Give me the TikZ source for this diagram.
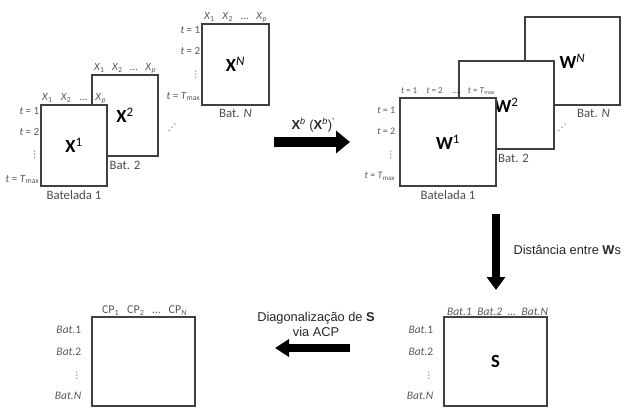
\documentclass[tikz,border=0pt]{standalone}
\usepackage{fontspec}
\setmainfont{Carlito}
\newfontfamily\arialfont{Liberation Sans}
\newfontfamily\symbfont{DejaVu Sans}
\usetikzlibrary{arrows.meta,positioning}

\newcommand{\smallvdots}{{\symbfont\fontsize{9}{9}\selectfont ⋮}}

\begin{document}
\begin{tikzpicture}[x=1pt,y=-1pt,
    matrixbox/.style={rectangle,draw=black!75,line width=1.1pt,fill=white,inner sep=0pt,font=\fontsize{18.5}{20}\selectfont\bfseries},
    collabel/.style={anchor=south,inner sep=1pt,text=black!65,font=\fontsize{11}{12}\selectfont},
    rowlabel/.style={anchor=east,inner sep=1pt,text=black!65,font=\fontsize{11}{12}\selectfont},
    caption/.style={inner sep=1pt,text=black!70,font=\fontsize{12.8}{14}\selectfont},
    bigarrow/.style={line width=10pt,-{Triangle[length=14pt,width=22pt]}},
    steplabel/.style={text=black!85,font=\arialfont\fontsize{12.8}{15}\selectfont,align=center}
]
    \useasboundingbox (0,0) rectangle (624,416);

    % Batch matrices X (back to front)
    \node[matrixbox,minimum width=67pt,minimum height=81pt] (xn) at (235.5,64.5) {X\textsuperscript{\mdseries\itshape N}};
    \node[matrixbox,minimum width=66pt,minimum height=81pt] (x2) at (125,115.5) {X\textsuperscript{\mdseries 2}};
    \node[matrixbox,minimum width=66pt,minimum height=81pt] (x1) at (74,145.5) {X\textsuperscript{\mdseries 1}};

    % Variables on top
    \node[collabel] (x1cols) at (x1.north) {\makebox[64pt][s]{\textit{X}\textsubscript{1} \textit{X}\textsubscript{2} \dots{} \textit{X}\textsubscript{\textit{p}}}};
    \node[collabel] (x2cols) at (x2.north) {\makebox[62pt][s]{\textit{X}\textsubscript{1} \textit{X}\textsubscript{2} \dots{} \textit{X}\textsubscript{\textit{p}}}};
    \node[collabel] (xncols) at (xn.north) {\makebox[63pt][s]{\textit{X}\textsubscript{1} \textit{X}\textsubscript{2} \dots{} \textit{X}\textsubscript{\textit{p}}}};

    % Time on the left
    \foreach \lab/\dy [count=\i] in {{\textit{t} = 1}/7,{\textit{t} = 2}/28,{\smallvdots}/50,{\textit{t} = \textit{T}\textsubscript{max}}/75}
        \node[rowlabel] (x1row\i) at ([yshift=-\dy pt]x1.north west) {\lab};
    \foreach \lab/\dy [count=\i] in {{\textit{t} = 1}/7,{\textit{t} = 2}/28,{\smallvdots}/51,{\textit{t} = \textit{T}\textsubscript{max}}/73}
        \node[rowlabel] (xnrow\i) at ([yshift=-\dy pt]xn.north west) {\lab};

    % Batch names
    \node[caption,below=3pt of x1] (x1cap) {Batelada 1};
    \node[caption,below=3pt of x2] (x2cap) {Bat. 2};
    \node[caption,below=3pt of xn] (xncap) {Bat. \textit{N}};
    \node[caption,font=\symbfont\fontsize{9}{9}\selectfont] (xdots) at (172,128) {⋰};

    % Matrices W (back to front)
    \node[matrixbox,minimum width=95pt,minimum height=88pt] (wn) at (572.5,61) {W\textsuperscript{\mdseries\itshape N}};
    \node[matrixbox,minimum width=95pt,minimum height=88pt] (w2) at (506.5,105) {W\textsuperscript{\mdseries 2}};
    \node[matrixbox,minimum width=96pt,minimum height=88pt] (w1) at (448,142) {W\textsuperscript{\mdseries 1}};

    \node[collabel,font=\fontsize{9}{10}\selectfont] (w1cols) at ([yshift=2pt]w1.north) {\makebox[94pt][s]{\mbox{\textit{t} = 1} \mbox{\textit{t} = 2} \dots{} \mbox{\textit{t} = \textit{T}\textsubscript{max}}}};
    \foreach \lab/\dy [count=\i] in {{\textit{t} = 1}/13,{\textit{t} = 2}/34,{\smallvdots}/57,{\textit{t} = \textit{T}\textsubscript{max}}/79}
        \node[rowlabel,font=\fontsize{10}{10}\selectfont] (w1row\i) at ([yshift=-\dy pt,xshift=-3pt]w1.north west) {\lab};

    \node[caption,below=3pt of w1] (w1cap) {Batelada 1};
    \node[caption,below=3pt of w2,xshift=7pt] (w2cap) {Bat. 2};
    \node[caption,below=3pt of wn,xshift=21pt] (wncap) {Bat. \textit{N}};
    \node[caption,font=\symbfont\fontsize{9}{9}\selectfont] (wdots) at (562,128) {⋰};

    % Similarity matrix S and principal components
    \node[matrixbox,minimum width=103pt,minimum height=89pt] (s) at (495.5,361.5) {S};
    \node[matrixbox,minimum width=103pt,minimum height=89pt] (cp) at (143.5,361.5) {};

    \node[collabel,font=\fontsize{11.5}{12}\selectfont\itshape] (scols) at ([xshift=2pt]s.north) {\makebox[101pt][s]{Bat.1 Bat.2 \dots{} Bat.\textit{N}}};
    \node[collabel,font=\fontsize{12}{12}\selectfont] (cpcols) at ([xshift=1pt]cp.north) {\makebox[85pt][s]{CP\textsubscript{1} CP\textsubscript{2} \dots{} CP\textsubscript{\textit{N}}}};
    \foreach \lab/\dy [count=\i] in {{\textit{Bat.}1}/13,{\textit{Bat.}2}/35,{\smallvdots}/59,{\textit{Bat.N}}/79} {
        \node[rowlabel,font=\fontsize{11.5}{12}\selectfont] (srow\i) at ([yshift=-\dy pt,xshift=-9pt]s.north west) {\lab};
        \node[rowlabel,font=\fontsize{11.5}{12}\selectfont] (cprow\i) at ([yshift=-\dy pt,xshift=-9pt]cp.north west) {\lab};
    }

    % Steps
    \coordinate (xa) at (274,142);
    \coordinate (wa) at (350,142);
    \draw[bigarrow] (xa) -- (wa);
    \node[steplabel,font=\arialfont\fontsize{13}{14}\selectfont] (prod) at (313,125) {\textbf{X}\textsuperscript{\textit{b}} (\textbf{X}\textsuperscript{\textit{b}})\textsuperscript{'}};

    \coordinate (wb) at (496,214);
    \coordinate (sb) at (496,290);
    \draw[bigarrow,line width=8pt,-{Triangle[length=13pt,width=18pt]}] (wb) -- (sb);
    \node[steplabel,anchor=west] (dist) at (510,250) {Distância entre \textbf{W}s};

    \coordinate (sc) at (350,348);
    \coordinate (cpc) at (275,348);
    \draw[bigarrow,line width=8pt,-{Triangle[length=14pt,width=17pt]}] (sc) -- (cpc);
    \node[steplabel] (diag) at (316,324) {Diagonalização de \textbf{S}\\via ACP};
\end{tikzpicture}
\end{document}
